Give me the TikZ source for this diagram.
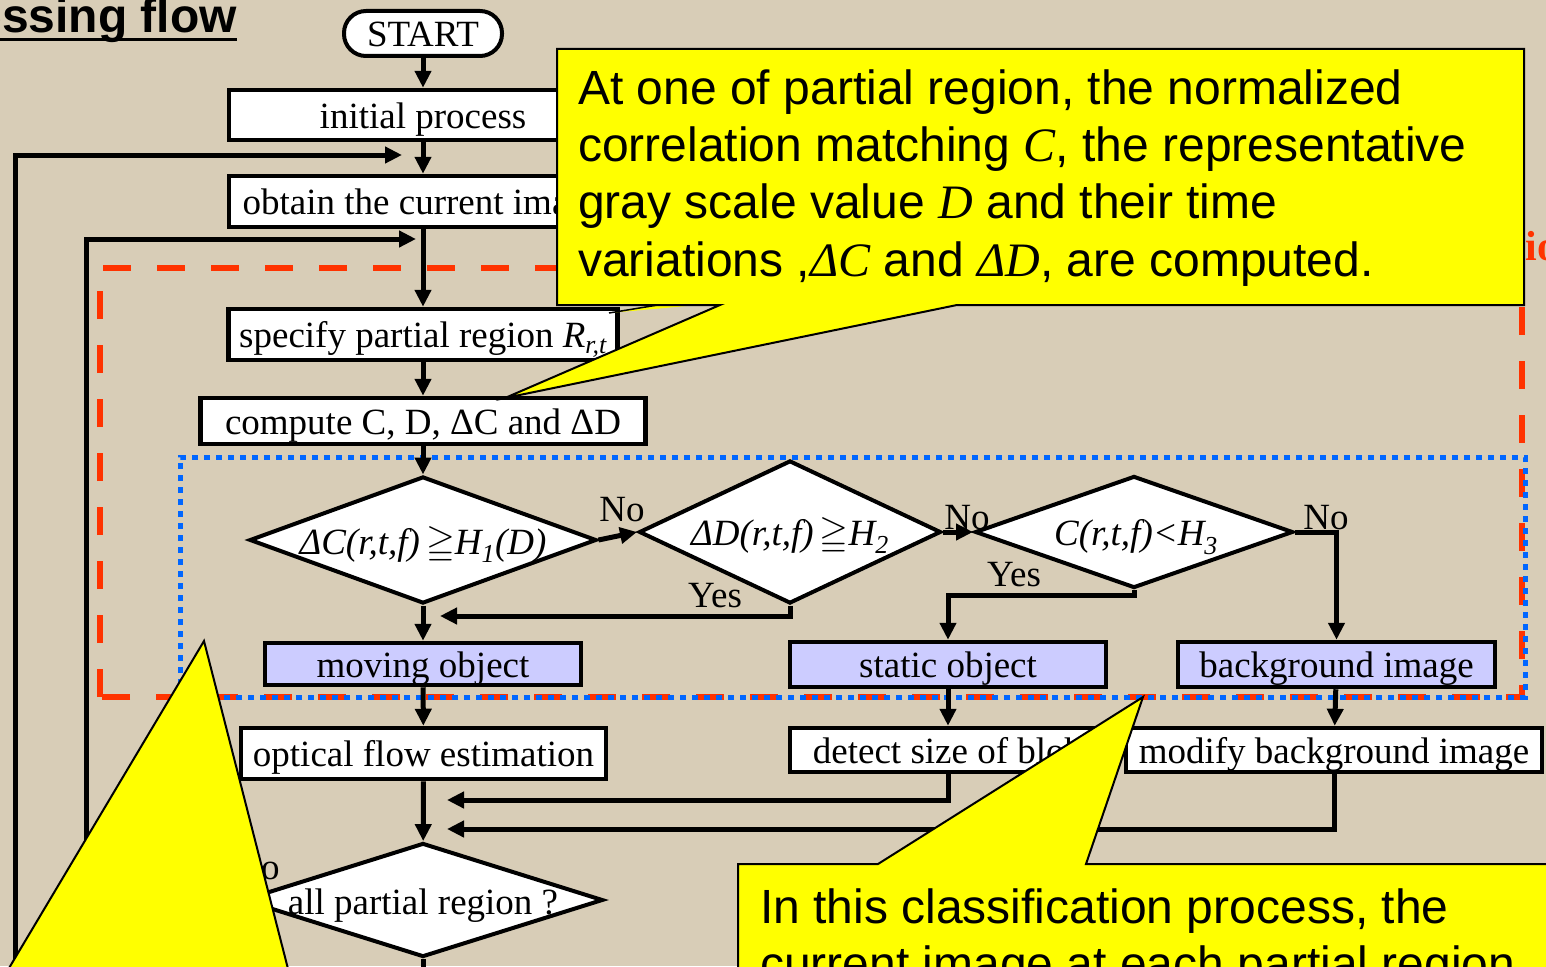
\documentclass[tikz,border=0pt]{standalone}
\usepackage{fontspec}
\usepackage{amssymb}
\setmainfont{Liberation Serif}
\newfontfamily\calloutfont{Liberation Sans}
\usetikzlibrary{arrows.meta,shapes.geometric}

\definecolor{paper}{RGB}{216,205,183}
\definecolor{lavender}{RGB}{204,204,255}
\definecolor{zonered}{RGB}{255,51,0}
\definecolor{zoneblue}{RGB}{0,102,255}
\definecolor{noteyellow}{RGB}{255,255,0}

\newcommand\bxfont{\fontsize{37}{44}\selectfont}
\newcommand\ntfont{\calloutfont\fontsize{48}{57}\selectfont}

\begin{document}
\begin{tikzpicture}[x=1pt,y=-1pt,
  proc/.style={draw, line width=4.5pt, fill=white, inner sep=0pt, font=\bxfont,
    text height=32pt, text depth=6pt},
  state/.style={proc, fill=lavender},
  decision/.style={diamond, draw, line width=4pt, fill=white, inner sep=0pt},
  flow/.style={line width=5pt, -{Triangle[length=17pt,width=16pt]}},
  link/.style={line width=5pt},
  lbl/.style={font=\bxfont, inner sep=0pt},
  callout/.style={fill=noteyellow, draw=black, line width=2pt, line join=miter},
  notetext/.style={font=\ntfont, inner sep=0pt, anchor=base west},
  redzone/.style={draw=zonered, line width=6.5pt, dash pattern=on 28pt off 26pt},
  bluezone/.style={draw=zoneblue, line width=5pt, dash pattern=on 6pt off 6pt}]

% canvas
\fill[paper] (0,0) rectangle (1546,966);
\useasboundingbox (0,0) rectangle (1546,966);

% heading
\node[font=\calloutfont\bfseries\fontsize{48}{56}\selectfont, inner sep=0pt, anchor=base east]
  (title) at (237,33) {processing flow};
\draw[line width=3pt] ([yshift=-7pt]title.base west) -- ([yshift=-7pt]title.base east);

% caption of the dashed zone, mostly hidden under the note
\node[font=\bfseries\fontsize{42}{48}\selectfont, text=zonered, inner sep=0pt, anchor=base east]
  (zonecap) at (1582,260) {classification};

% zones
\draw[redzone] (100,697) -- (100,268) -- (1522,268) -- (1522,697) -- cycle;
\draw[bluezone] (180,697) -- (180,457) -- (1525,457) -- (1525,697) -- cycle;

% steps
\node[draw, line width=4pt, fill=white, rounded corners=22pt, minimum width=158pt,
  minimum height=45pt, inner sep=0pt, font=\bxfont, text height=30pt, text depth=4pt]
  (start) at (423,33.5) {START};
\node[proc, minimum width=388pt, minimum height=50pt] (init) at (423,115) {initial process};
\node[proc, minimum width=388pt, minimum height=51pt] (obtain) at (423,201.5) {obtain the current image};
\node[proc, minimum width=389pt, minimum height=51pt] (spec) at (423,334.5)
  {specify partial region {\itshape R}\textsubscript{\itshape r,t}};
\node[proc, minimum width=445pt, minimum height=46pt] (comp) at (423,421) {compute C, D, ΔC and ΔD};

\node[decision, minimum width=347pt, minimum height=127pt] (d1) at (423,540) {};
\node[lbl] at ([yshift=-5pt]d1) {\itshape ΔC(r,t,f)\,\upshape$\geqq$\itshape H\textsubscript{1}(D)};
\node[decision, minimum width=302pt, minimum height=143pt] (d2) at (790,532) {};
\node[lbl] at ([yshift=-4pt]d2) {\itshape ΔD(r,t,f)\,\upshape$\geqq$\itshape H\textsubscript{2}};
\node[decision, minimum width=318pt, minimum height=112pt] (d3) at (1134,532) {};
\node[lbl] at ([xshift=2pt,yshift=-5pt]d3) {\itshape C(r,t,f)<H\textsubscript{3}};

\node[state, minimum width=316pt, minimum height=42pt] (mov) at (423,664) {moving object};
\node[state, minimum width=316pt, minimum height=45pt] (stat) at (948,664.5) {static object};
\node[state, minimum width=317pt, minimum height=45pt] (bg) at (1336.5,664.5) {background image};

\node[proc, minimum width=365pt, minimum height=51pt] (opt) at (423.5,753.5) {optical flow estimation};
\node[proc, minimum width=316pt, minimum height=44pt] (det) at (948,750) {detect size of blob};
\node[proc, minimum width=416pt, minimum height=44pt] (mod) at (1334,750) {modify background image};

\node[decision, minimum width=360pt, minimum height=114pt] (d4) at (423,900) {};
\node[lbl] at ([yshift=-6pt]d4) {all partial region ?};

% turning points of the connectors
\coordinate (loopA) at (15,1000);
\coordinate (loopAtip) at (402,155);
\coordinate (loopB) at (86,239);
\coordinate (loopBtip) at (416,239);
\coordinate (yesTip) at (440,616);
\coordinate (joinA) at (447,800);
\coordinate (joinB) at (447,829);
\coordinate (exitD) at (423,1000);

% connectors
\draw[flow] (start) -- (init);
\draw[flow] (init) -- (obtain);
\draw[flow] (obtain) -- (spec);
\draw[flow] (spec) -- (comp);
\draw[flow] (comp) -- (d1);
\draw[flow] (d1.east) -- (d2.west);
\draw[flow] (d2.east) -- (d3.west);
\draw[flow] (d3.east) -| (bg.north);
\draw[flow] (d3.south) -- ++(0,5) -| (stat.north);
\draw[flow] (d2.south) |- (yesTip);
\draw[flow] (d1) -- (mov);
\draw[flow] (mov) -- (opt);
\draw[flow] (stat) -- (det);
\draw[flow] (bg) -- (mod);
\draw[flow] (opt) -- (d4);
\draw[flow] (det.south) |- (joinA);
\draw[flow] (mod.south) |- (joinB);
\draw[link] (d4.south) -- (exitD);
\draw[flow] (loopA) |- (loopAtip);
\draw[flow] (d4.west) -| (loopB) -- (loopBtip);

% branch labels
\node[lbl] (no1) at (622,510) {No};
\node[lbl] (no2) at (967,518) {No};
\node[lbl] (no3) at (1326,518) {No};
\node[lbl] (no4) at (257,868) {No};
\node[lbl] (yes1) at (715,596) {Yes};
\node[lbl] (yes2) at (1014,575) {Yes};

% notes
\fill[noteyellow] (609,313) -- (664,303) -- (720,303) -- cycle;
\draw[line width=1.5pt] (609,313) -- (664,304);
\draw[callout] (557,49) -- (1524,49) -- (1524,305) -- (957,305) -- (505,398) -- (720,305)
  -- (557,305) -- cycle;
\node[notetext] (n1a) at (578,104) {At one of partial region, the normalized};
\node[notetext] (n1b) at (578,161) {correlation matching {\rmfamily\itshape C}, the representative};
\node[notetext] (n1c) at (578,218) {gray scale value {\rmfamily\itshape D} and their time};
\node[notetext] (n1d) at (578,276) {variations ,{\rmfamily\itshape ΔC} and {\rmfamily\itshape ΔD}, are computed.};

\draw[callout] (204,641) -- (296,1000) -- (-10,1000) -- cycle;

\draw[callout] (738,864) -- (878,864) -- (1143,697) -- (1086,864) -- (1570,864)
  -- (1570,1010) -- (738,1010) -- cycle;
\node[notetext] (n2a) at (760,923) {In this classification process, the};
\node[notetext] (n2b) at (760,980) {current image at each partial region};
\end{tikzpicture}
\end{document}
